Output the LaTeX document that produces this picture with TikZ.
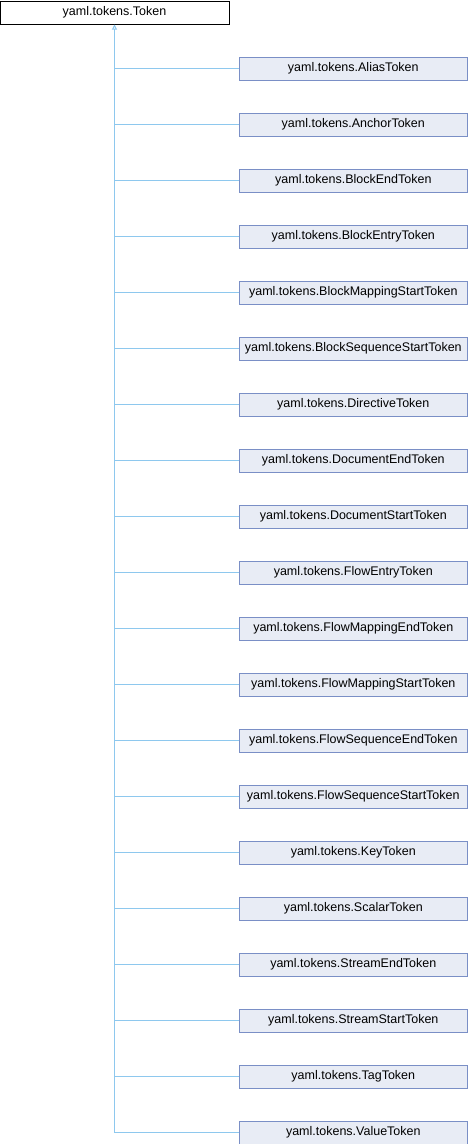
\documentclass[tikz,border=0pt]{standalone}
\usepackage{fontspec}
\setmainfont{Liberation Sans}
\usetikzlibrary{arrows.meta}
\definecolor{boxfill}{HTML}{E8ECF5}
\definecolor{boxdraw}{HTML}{7A8FC6}
\definecolor{edgec}{HTML}{8EC8EE}
\tikzset{
  base/.style={draw=black, fill=white, line width=1pt, minimum width=229pt, minimum height=23pt, inner sep=0pt, font=\fontsize{12.5}{14}\selectfont},
  child/.style={draw=boxdraw, fill=boxfill, line width=1pt, minimum width=228pt, minimum height=23pt, inner sep=0pt, font=\fontsize{12.5}{14}\selectfont},
  edge/.style={draw=edgec, line width=1pt},
}
\begin{document}
\begin{tikzpicture}[x=1pt,y=-1pt]
\useasboundingbox (0,0) rectangle (468,1144);
\node[base] (root) at (114.5,12.5) {yaml.tokens.Token};
\coordinate (trunk) at (114.5,1132.5);
\foreach \n [count=\i from 0] in {AliasToken,AnchorToken,BlockEndToken,BlockEntryToken,BlockMappingStartToken,BlockSequenceStartToken,DirectiveToken,DocumentEndToken,DocumentStartToken,FlowEntryToken,FlowMappingEndToken,FlowMappingStartToken,FlowSequenceEndToken,FlowSequenceStartToken,KeyToken,ScalarToken,StreamEndToken,StreamStartToken,TagToken,ValueToken}{
  \node[child] (c\i) at (353.3,68.5+56*\i) {yaml.tokens.\n};
  \coordinate (j\i) at (114.5,68.5+56*\i);
  \draw[edge] (j\i) -- (c\i.west);
}
\draw[edge, -{Triangle[open,length=5pt,width=5pt]}] (trunk) -- (root.south);
\end{tikzpicture}
\end{document}
